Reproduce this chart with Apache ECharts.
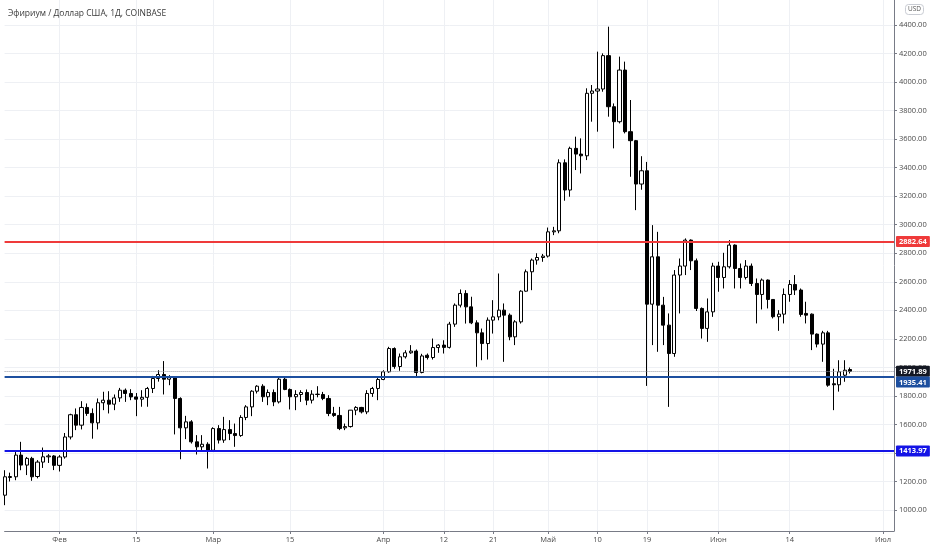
<!DOCTYPE html>
<html>
<head>
<meta charset="utf-8">
<script src="https://cdn.jsdelivr.net/npm/echarts/dist/echarts.min.js"></script>
<style>
html,body{margin:0;padding:0;background:#fff;}
#chart{width:932px;height:550px;}
</style>
</head>
<body>
<div id="chart"></div>
<script>
// ---- data ----
const titleText = 'Эфириум / Доллар США, 1Д, COINBASE';
const startDate = '2021-01-22';
const endDate = '2021-07-03';
// [open, high, low, close] per day from startDate
const ohlc = [
  [1104,1279,1034,1233],[1228,1262,1200,1235],[1233,1408,1209,1385],[1385,1478,1279,1315],
  [1315,1372,1245,1362],[1362,1373,1205,1233],[1235,1350,1222,1336],[1336,1438,1295,1373],
  [1373,1392,1330,1379],[1379,1385,1280,1313],
  // Feb
  [1313,1385,1270,1372],[1372,1540,1360,1512],[1512,1675,1495,1668],[1668,1712,1560,1595],
  [1595,1763,1565,1719],[1719,1747,1660,1677],[1677,1712,1500,1611],[1611,1782,1565,1752],
  [1752,1829,1700,1770],[1770,1833,1677,1742],[1742,1810,1700,1786],[1786,1856,1758,1840],
  [1840,1852,1758,1817],[1817,1847,1770,1793],[1793,1820,1658,1777],[1777,1840,1724,1790],
  [1790,1863,1724,1852],[1852,1940,1820,1922],[1922,1980,1900,1950],[1950,2044,1810,1917],
  [1917,1945,1875,1932],[1932,1936,1530,1782],[1782,1790,1356,1576],[1576,1660,1497,1618],
  [1618,1630,1466,1478],[1478,1525,1389,1443],[1443,1525,1408,1461],[1461,1475,1291,1419],
  // Mar
  [1419,1580,1408,1571],[1571,1595,1466,1490],[1490,1653,1471,1564],[1564,1630,1490,1536],
  [1536,1606,1443,1522],[1522,1665,1513,1649],[1649,1735,1630,1723],[1723,1840,1658,1833],
  [1833,1875,1817,1868],[1868,1882,1758,1794],[1794,1845,1735,1824],[1824,1845,1728,1758],
  [1758,1938,1747,1917],[1917,1934,1840,1845],[1845,1852,1705,1794],[1794,1840,1700,1810],
  [1810,1840,1758,1824],[1824,1845,1735,1770],[1770,1840,1747,1812],[1812,1868,1790,1810],
  [1810,1828,1770,1782],[1782,1805,1658,1677],[1677,1723,1653,1663],[1663,1723,1560,1571],
  [1576,1606,1560,1585],[1585,1700,1578,1700],[1700,1728,1665,1719],[1719,1723,1677,1688],
  [1688,1840,1672,1817],[1817,1863,1793,1852],[1852,1934,1770,1915],
  // Apr
  [1915,1980,1910,1969],[1969,2144,1962,2132],[2132,2140,1990,2006],[2006,2097,1976,2074],
  [2074,2120,2062,2102],[2102,2156,2095,2114],[2114,2125,1938,1964],[1964,2095,1958,2080],
  [2085,2097,2055,2069],[2069,2202,2055,2139],[2139,2163,2102,2156],[2156,2190,2097,2140],
  [2140,2319,2132,2303],[2303,2448,2284,2436],[2436,2546,2420,2518],[2518,2541,2307,2424],
  [2424,2495,2303,2312],[2312,2330,2004,2242],[2242,2272,2050,2167],[2167,2350,2055,2331],
  [2331,2471,2237,2354],[2354,2658,2330,2401],[2401,2448,2039,2366],[2366,2378,2190,2214],
  [2214,2331,2156,2319],[2319,2541,2307,2534],[2534,2686,2530,2670],[2670,2763,2541,2752],
  [2752,2800,2720,2770],[2770,2795,2740,2780],
  // May
  [2780,2980,2770,2950],[2950,2985,2927,2957],[2957,3458,2940,3434],[3434,3458,3168,3243],
  [3243,3547,3196,3535],[3535,3617,3383,3495],[3495,3605,3359,3483],[3483,3956,3453,3921],
  [3921,3979,3722,3937],[3937,4213,3652,3951],[3951,4201,3932,4185],[4185,4388,3757,3827],
  [3827,3850,3535,3722],[3722,4178,3710,4084],[4084,4143,3640,3652],[3652,3874,3336,3589],
  [3589,3594,3102,3285],[3285,3480,3245,3378],[3378,3440,1870,2443],[2443,2997,2156,2775],
  [2775,2950,2109,2436],[2436,2494,2156,2296],[2296,2378,1723,2097],[2097,2682,2074,2647],
  [2647,2763,2378,2710],[2710,2904,2647,2892],[2892,2897,2682,2747],[2747,2763,2395,2413],
  [2413,2420,2202,2273],[2273,2483,2179,2389],[2389,2733,2354,2710],
  // Jun
  [2710,2740,2530,2630],[2630,2803,2553,2705],[2705,2892,2693,2857],[2857,2862,2553,2693],
  [2693,2728,2553,2630],[2630,2752,2616,2710],[2710,2728,2570,2588],[2588,2623,2308,2511],
  [2511,2623,2406,2612],[2612,2616,2413,2476],[2476,2476,2343,2355],[2355,2401,2256,2373],
  [2373,2553,2308,2511],[2511,2612,2460,2581],[2581,2647,2507,2542],[2542,2553,2355,2371],
  [2378,2460,2308,2366],[2373,2378,2121,2233],[2233,2238,2140,2163],[2163,2256,2039,2242],
  [2242,2256,1864,1875],[1885,1990,1700,1878],[1878,2050,1830,1969],[1945,2050,1899,1980],
  [1985,1999,1957,1971.89]
];
const tickDates = ['2021-02-01','2021-02-15','2021-03-01','2021-03-15','2021-04-01','2021-04-12','2021-04-21','2021-05-01','2021-05-10','2021-05-19','2021-06-01','2021-06-14','2021-07-01'];
const tickLabels = ['Фев','15','Мар','15','Апр','12','21','Май','10','19','Июн','14','Июл'];
const priceTicks = [1000,1200,1400,1600,1800,2000,2200,2400,2600,2800,3000,3200,3400,3600,3800,4000,4200,4400];
const levelValues = [2882.64, 1935.41, 1413.97];
const levelColors = ['#ef3a3a', '#1d4f9f', '#1414e6'];
const currencyLabel = 'USD';

// ---- build ----
const dates = [];
{
  const d = new Date(startDate + 'T00:00:00Z');
  const end = new Date(endDate + 'T00:00:00Z');
  while (d <= end) {
    dates.push(d.toISOString().slice(0, 10));
    d.setUTCDate(d.getUTCDate() + 1);
  }
}
const labelMap = {};
tickDates.forEach((t, i) => { labelMap[t] = tickLabels[i]; });
const isTick = (i, v) => labelMap[v] !== undefined;
const candleData = ohlc.map(r => [r[0], r[3], r[2], r[1]]);
const lastClose = ohlc[ohlc.length - 1][3];

const FONT = 'Open Sans';
const markData = [
  {
    yAxis: lastClose,
    lineStyle: { color: '#9598a1', type: 'dotted', width: 1 },
    label: { backgroundColor: '#131722', verticalAlign: 'middle' }
  }
].concat(levelValues.map((v, i) => ({
  yAxis: v,
  lineStyle: { color: levelColors[i], type: 'solid', width: 2 },
  label: { backgroundColor: levelColors[i], verticalAlign: i === 1 ? 'top' : 'middle' }
})));

const chart = echarts.init(document.getElementById('chart'), null, { renderer: 'canvas' });
chart.setOption({
  animation: false,
  backgroundColor: '#ffffff',
  textStyle: { fontFamily: FONT },
  title: [
    {
      text: titleText, left: 3, top: 4,
      textStyle: { fontSize: 8.5, fontWeight: 'normal', color: '#3a3a3a', fontFamily: FONT }
    },
    {
      text: currencyLabel, right: 8, top: 4, padding: [2, 3],
      borderColor: '#c9ccd3', borderWidth: 1, borderRadius: 3,
      textStyle: { fontSize: 6.5, fontWeight: 'normal', color: '#555', fontFamily: FONT }
    }
  ],
  grid: { left: 4.6, right: 38, top: 0, bottom: 19, containLabel: false },
  xAxis: {
    type: 'category',
    data: dates,
    boundaryGap: false,
    axisLine: { show: true, lineStyle: { color: '#787b86', width: 1 } },
    axisTick: { show: true, interval: isTick, length: 3, lineStyle: { color: '#787b86' } },
    axisLabel: {
      interval: isTick, formatter: v => labelMap[v] || '',
      color: '#4a4a4a', fontSize: 7.5, margin: 5, fontFamily: FONT
    },
    splitLine: { show: true, interval: isTick, lineStyle: { color: '#eef0f4', width: 1 } }
  },
  yAxis: {
    type: 'value',
    position: 'right',
    min: 853,
    max: 4575,
    scale: true,
    axisLine: { show: true, lineStyle: { color: '#787b86', width: 1 } },
    axisTick: { show: true, customValues: priceTicks, length: 3, lineStyle: { color: '#787b86' } },
    axisLabel: {
      customValues: priceTicks, formatter: v => v.toFixed(2),
      color: '#4a4a4a', fontSize: 7.5, margin: 5, fontFamily: FONT
    },
    splitLine: { show: true, lineStyle: { color: '#eef0f4', width: 1 } }
  },
  series: [{
    type: 'candlestick',
    data: candleData,
    barWidth: 3.6,
    clip: false,
    itemStyle: {
      color: '#ffffff', color0: '#000000',
      borderColor: '#000000', borderColor0: '#000000', borderWidth: 1
    },
    markLine: {
      silent: true,
      symbol: ['none', 'none'],
      animation: false,
      label: {
        show: true, position: 'end', distance: 2,
        formatter: p => Number(p.value).toFixed(2),
        color: '#ffffff', fontSize: 7.5, fontWeight: 'bold', fontFamily: FONT,
        padding: [2, 3, 1, 3], borderRadius: 1
      },
      data: markData
    }
  }]
});
</script>
</body>
</html>
